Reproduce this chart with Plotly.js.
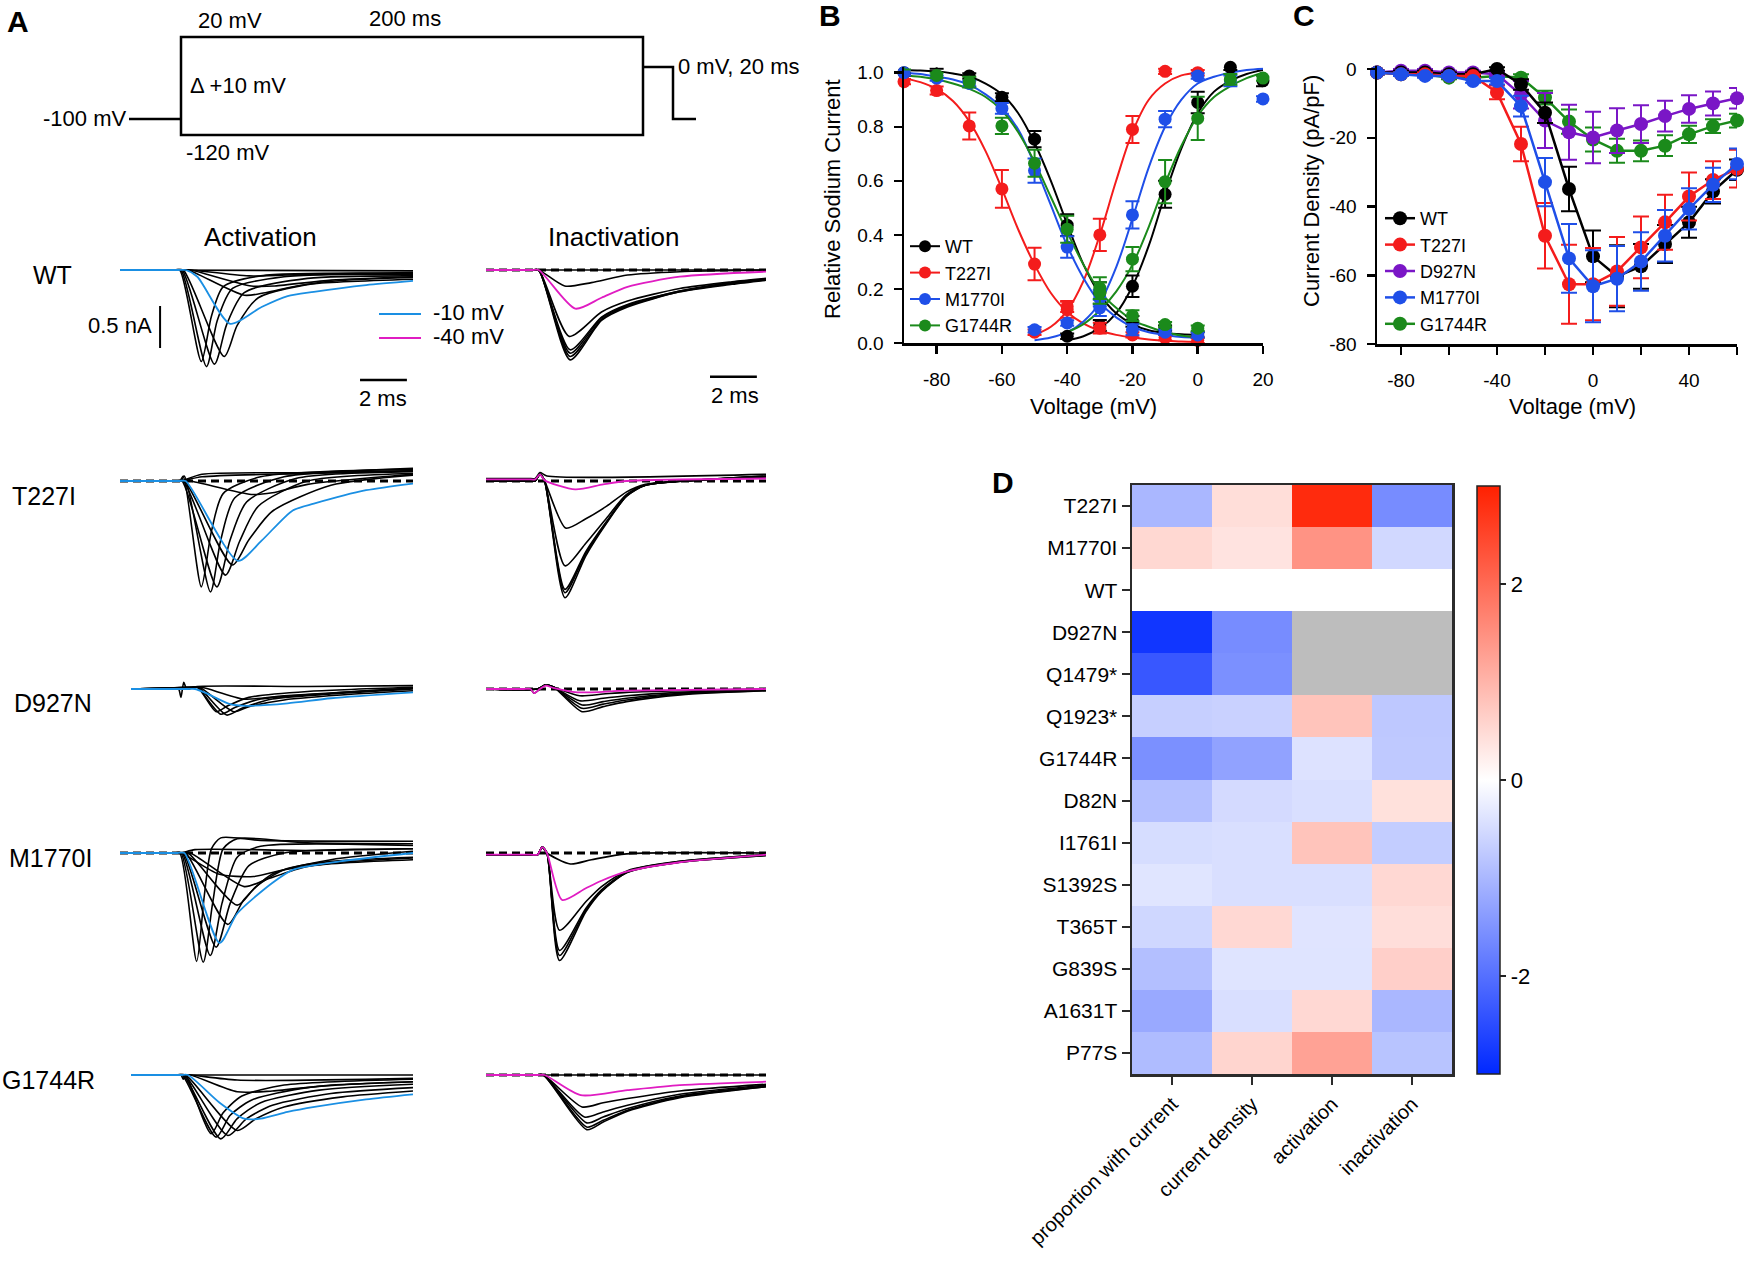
<!DOCTYPE html>
<html>
<head>
<meta charset="utf-8">
<script src="https://cdn.plot.ly/plotly-3.0.1.min.js"></script>
<style>
body { margin: 0; background: #fff; }
#fig { width: 1744px; height: 1263px; }
</style>
</head>
<body>
<div id="fig"></div>
<script>
// ---------------- data: panel A current traces (t in ms, I in nA, pairs t,I) ----------------
var trActWT = [
  [0,0, 2.25,0, 2.55,0, 3.47,-1.09, 3.9,-0.55, 4.4,-0.2, 6,-0.07, 12.5,-0.04],
  [0,0, 2.3,0, 2.6,0, 3.69,-1.15, 4.15,-0.6, 4.8,-0.22, 7,-0.08, 12.5,-0.05],
  [0,0, 2.35,0, 2.65,0, 4.03,-1.12, 4.55,-0.65, 5.3,-0.27, 8,-0.1, 12.5,-0.07],
  [0,0, 2.4,0, 2.7,0, 4.45,-1.03, 5.0,-0.66, 5.9,-0.33, 8.5,-0.15, 12.5,-0.09],
  [0,0, 2.6,0, 2.9,0, 5.3,-0.3, 6.2,-0.27, 8,-0.17, 12.5,-0.11],
  [0,0, 2.7,0, 3.0,0, 5.6,-0.19, 6.6,-0.19, 9,-0.12, 12.5,-0.08],
  [0,0, 2.7,0, 3.0,0, 5.5,-0.07, 8,-0.05, 12.5,-0.03],
  [0,0, 12.5,-0.01]
];
var trActWTblue = [0,0, 2.5,0, 2.8,0, 3.3,-0.08, 4.7,-0.64, 6.04,-0.44, 7.15,-0.31, 8.27,-0.26, 10.5,-0.18, 12.5,-0.13];

var trInWT = [
  [0,0, 1.95,0, 2.25,0, 3.59,-1.07, 4.93,-0.6, 6.04,-0.44, 8.27,-0.26, 10.5,-0.17, 11.95,-0.12],
  [0,0, 1.95,0, 2.25,0, 3.59,-1.03, 4.93,-0.59, 6.04,-0.43, 8.27,-0.26, 10.5,-0.16, 11.95,-0.12],
  [0,0, 1.95,0, 2.25,0, 3.59,-0.99, 4.93,-0.57, 6.04,-0.42, 8.27,-0.25, 10.5,-0.16, 11.95,-0.11],
  [0,0, 1.95,0, 2.25,0, 3.59,-0.95, 4.93,-0.56, 6.04,-0.41, 8.27,-0.25, 10.5,-0.15, 11.95,-0.11],
  [0,0, 1.95,0, 2.25,0, 3.55,-0.79, 4.93,-0.5, 6.04,-0.37, 8.27,-0.22, 10.5,-0.14, 11.95,-0.1],
  [0,0, 1.95,0, 2.25,0, 3.36,-0.19, 4.5,-0.15, 6.04,-0.06, 8.27,-0.02, 11.95,0],
  [0,0, 11.95,0]
];
var trInWTpink = [0,0, 1.95,0, 2.25,0, 3.81,-0.46, 4.93,-0.33, 6.04,-0.2, 8.27,-0.08, 11.95,-0.02];

var trActT227I = [
  [0,0, 2.25,0, 2.55,0, 2.7,0.06, 3.47,-1.26, 3.9,-0.6, 4.4,-0.15, 6,0.05, 12.5,0.14],
  [0,0, 2.3,0, 2.6,0, 2.75,0.06, 3.86,-1.32, 4.3,-0.7, 4.9,-0.2, 7,0.05, 12.5,0.12],
  [0,0, 2.35,0, 2.65,0, 4.13,-1.26, 4.7,-0.7, 5.4,-0.25, 7.5,0.03, 12.5,0.11],
  [0,0, 2.4,0, 2.7,0, 4.5,-1.12, 5.1,-0.72, 5.9,-0.3, 8,0.0, 12.5,0.09],
  [0,0, 2.45,0, 2.75,0, 4.8,-1.0, 5.5,-0.7, 6.5,-0.36, 9,-0.05, 12.5,0.07],
  [0,0, 2.7,0, 3.0,0, 5.6,-0.16, 6.5,-0.14, 8,-0.04, 12.5,0.08],
  [0,0, 2.3,0, 2.6,0, 3.5,0.08, 8,0.1, 12.5,0.15],
  [0,0, 2.3,0, 2.6,0, 3.5,0.05, 8,0.09, 12.5,0.12]
];
var trActT227Iblue = [0,0, 2.5,0, 2.8,0, 5.03,-0.95, 6.04,-0.71, 7.37,-0.35, 8.27,-0.27, 10.5,-0.11, 12.5,-0.03];

var trInT227I = [
  [0,0, 1.8,0, 2.1,0, 2.3,0.08, 2.5,0, 3.37,-1.39, 4.26,-0.89, 5.15,-0.5, 6.0,-0.18, 6.8,-0.05, 9,0.01, 11.95,0.06],
  [0,0, 1.8,0, 2.1,0, 2.3,0.08, 2.5,0, 3.37,-1.33, 4.26,-0.86, 5.15,-0.49, 6.0,-0.18, 6.8,-0.05, 9,0.01, 11.95,0.06],
  [0,0, 1.8,0, 2.1,0, 2.3,0.08, 2.5,0, 3.37,-1.29, 4.26,-0.84, 5.15,-0.48, 6.0,-0.17, 6.8,-0.05, 9,0.01, 11.95,0.05],
  [0,0, 1.8,0, 2.1,0, 2.3,0.08, 2.5,0, 3.37,-1.01, 4.26,-0.74, 5.15,-0.44, 6.0,-0.16, 6.8,-0.05, 9,0.01, 11.95,0.05],
  [0,0, 1.8,0, 2.1,0, 2.3,0.08, 2.5,0, 3.4,-0.56, 4.26,-0.45, 5.15,-0.3, 6.0,-0.13, 6.8,-0.04, 9,0.01, 11.95,0.05],
  [0,0.03, 1.8,0.03, 2.1,0.03, 2.3,0.1, 2.6,0.06, 11.95,0.08]
];
var trInT227Ipink = [0,0.02, 1.8,0.02, 2.1,0.02, 2.3,0.08, 2.5,0.01, 3.81,-0.1, 5,-0.04, 6,0, 11.95,0.03];

var trActD927N = [
  [0.47,0, 2.2,0, 2.5,0, 2.6,-0.1, 2.72,0.08, 2.85,0, 3.3,0.02, 4.1,-0.27, 4.6,-0.2, 5.5,-0.1, 8,-0.03, 12.5,0.02],
  [0.47,0, 3.0,0.02, 3.3,0.02, 4.3,-0.3, 4.9,-0.22, 6,-0.12, 9,-0.05, 12.5,0.01],
  [0.47,0, 3.05,0.02, 3.35,0.02, 4.55,-0.31, 5.2,-0.23, 6.5,-0.12, 9,-0.06, 12.5,0],
  [0.47,0, 3.1,0.02, 3.4,0.02, 4.85,-0.27, 5.5,-0.21, 7,-0.13, 10,-0.06, 12.5,-0.02],
  [0.47,0, 3.2,0.02, 3.5,0.02, 5.3,-0.12, 7,-0.08, 12.5,0.01],
  [0.47,0, 3.0,0.01, 3.3,0.03, 8,0.03, 12.5,0.04]
];
var trActD927Nblue = [0.47,0, 2.9,0, 3.2,0, 3.6,-0.04, 4.7,-0.18, 5.4,-0.2, 7.15,-0.17, 9,-0.11, 12.5,-0.04];

var trInD927N = [
  [0,0, 1.6,0, 1.9,0, 2.05,-0.05, 2.3,0, 2.55,0.05, 2.9,0.02, 4.1,-0.27, 5,-0.21, 6,-0.15, 8.3,-0.07, 11.95,-0.02],
  [0,0, 2.2,0, 2.55,0.05, 2.9,0.02, 4.1,-0.23, 5,-0.18, 6,-0.13, 8.3,-0.06, 11.95,-0.02],
  [0,0, 2.2,0, 2.55,0.05, 2.9,0.02, 4.1,-0.19, 5,-0.15, 6,-0.11, 8.3,-0.05, 11.95,-0.01],
  [0,0, 2.2,0, 2.55,0.05, 2.9,0.02, 4.0,-0.14, 5,-0.11, 6,-0.08, 8.3,-0.04, 11.95,-0.01],
  [0,0, 2.2,0, 2.55,0.05, 2.9,0.02, 4.0,-0.08, 5,-0.06, 6,-0.04, 11.95,0]
];
var trInD927Npink = [0,0, 1.6,0, 1.9,0, 2.05,-0.05, 2.3,0, 2.55,0.04, 2.9,0.01, 3.9,-0.04, 6,-0.02, 11.95,0];

var trActM1770I = [
  [0,0, 2.25,0, 2.55,0, 3.27,-1.29, 3.6,-0.5, 3.9,0.05, 4.3,0.18, 6,0.15, 12.5,0.14],
  [0,0, 2.3,0, 2.6,0, 3.55,-1.3, 3.95,-0.6, 4.4,0.05, 5,0.17, 8,0.12, 12.5,0.11],
  [0,0, 2.35,0, 2.65,0, 3.85,-1.22, 4.35,-0.6, 5,-0.05, 6,0.08, 12.5,0.09],
  [0,0, 2.4,0, 2.7,0, 4.1,-1.12, 4.7,-0.6, 5.5,-0.15, 7,0.0, 12.5,0.05],
  [0,0, 2.5,0, 2.8,0, 4.6,-0.85, 5.3,-0.55, 6.5,-0.25, 9,-0.08, 12.5,0.02],
  [0,0, 2.6,0, 2.9,0, 5.0,-0.62, 5.8,-0.4, 7,-0.2, 9,-0.1, 12.5,-0.05],
  [0,0, 2.7,0, 3.0,0, 5.3,-0.4, 6.2,-0.32, 8,-0.16, 12.5,-0.08],
  [0,0, 2.3,0, 2.6,0, 4.2,-0.25, 5.7,-0.28, 7,-0.2, 9,-0.12, 12.5,-0.06],
  [0,0, 2.3,0, 2.6,0, 3.2,0.04, 8,0.03, 12.5,0.05]
];
var trActM1770Iblue = [0,0, 2.45,0, 2.75,0, 4.25,-1.07, 5.0,-0.72, 6.48,-0.36, 7.37,-0.2, 9.38,-0.1, 12.5,0.0];

var trInM1770I = [
  [0,-0.02, 1.9,-0.02, 2.2,-0.02, 2.4,0.07, 2.6,0, 3.14,-1.28, 4.26,-0.7, 4.93,-0.46, 6.04,-0.23, 8.27,-0.11, 11.95,-0.03],
  [0,-0.02, 1.9,-0.02, 2.2,-0.02, 2.4,0.07, 2.6,0, 3.14,-1.22, 4.26,-0.68, 4.93,-0.45, 6.04,-0.23, 8.27,-0.11, 11.95,-0.03],
  [0,-0.02, 1.9,-0.02, 2.2,-0.02, 2.4,0.07, 2.6,0, 3.14,-1.16, 4.26,-0.66, 4.93,-0.44, 6.04,-0.22, 8.27,-0.1, 11.95,-0.02],
  [0,-0.02, 1.9,-0.02, 2.2,-0.02, 2.4,0.07, 2.6,0, 3.14,-0.92, 4.26,-0.58, 4.93,-0.4, 6.04,-0.21, 8.27,-0.1, 11.95,-0.02],
  [0,-0.02, 1.9,-0.02, 2.2,-0.02, 2.4,0.07, 2.6,0, 3.6,-0.13, 4.5,-0.08, 6,-0.01, 11.95,0]
];
var trInM1770Ipink = [0,-0.02, 1.9,-0.02, 2.2,-0.02, 2.4,0.07, 2.6,0, 3.25,-0.56, 4.26,-0.42, 4.93,-0.33, 6.04,-0.22, 8.27,-0.11, 11.95,-0.02];

var trActG1744R = [
  [0.47,0, 2.3,0, 2.6,0, 2.7,-0.05, 2.8,0, 3.89,-0.7, 4.4,-0.45, 5.2,-0.25, 7,-0.12, 12.5,-0.05],
  [0.47,0, 2.35,0, 2.65,0, 4.1,-0.74, 4.7,-0.48, 5.6,-0.3, 8,-0.15, 12.5,-0.08],
  [0.47,0, 2.4,0, 2.7,0, 4.3,-0.76, 5.0,-0.52, 6,-0.33, 8.5,-0.18, 12.5,-0.11],
  [0.47,0, 2.45,0, 2.75,0, 4.6,-0.72, 5.4,-0.52, 6.5,-0.36, 9,-0.22, 12.5,-0.15],
  [0.47,0, 2.5,0, 2.8,0, 5.0,-0.66, 5.8,-0.52, 7,-0.38, 9.5,-0.26, 12.5,-0.19],
  [0.47,0, 2.7,0, 3.0,0, 5.0,-0.2, 6.5,-0.19, 9,-0.12, 12.5,-0.08],
  [0.47,0, 2.7,0, 3.0,0, 5,-0.06, 12.5,-0.04],
  [0.47,0, 12.5,0]
];
var trActG1744Rblue = [0.47,0, 2.6,0, 2.9,0, 4.25,-0.33, 5.3,-0.52, 6.0,-0.52, 7.15,-0.44, 8.3,-0.38, 10.5,-0.29, 12.5,-0.23];

var trInG1744R = [
  [0,0, 2.15,0, 2.45,0, 4.3,-0.65, 5,-0.56, 6.04,-0.43, 8.27,-0.27, 11.95,-0.14],
  [0,0, 2.15,0, 2.45,0, 4.3,-0.62, 5,-0.54, 6.04,-0.42, 8.27,-0.26, 11.95,-0.14],
  [0,0, 2.15,0, 2.45,0, 4.3,-0.57, 5,-0.5, 6.04,-0.4, 8.27,-0.25, 11.95,-0.13],
  [0,0, 2.15,0, 2.45,0, 4.2,-0.5, 5,-0.44, 6.04,-0.36, 8.27,-0.23, 11.95,-0.12],
  [0,0, 2.15,0, 2.45,0, 4.1,-0.38, 5,-0.33, 6.04,-0.28, 8.27,-0.19, 11.95,-0.11],
  [0,0, 11.95,0]
];
var trInG1744Rpink = [0,0, 2.2,0, 2.5,0, 4.04,-0.24, 6.04,-0.18, 8.27,-0.12, 11.95,-0.08];

var rowNames = ['WT', 'T227I', 'D927N', 'M1770I', 'G1744R'];
var actSets = [trActWT, trActT227I, trActD927N, trActM1770I, trActG1744R];
var actBlue = [trActWTblue, trActT227Iblue, trActD927Nblue, trActM1770Iblue, trActG1744Rblue];
var inSets = [trInWT, trInT227I, trInD927N, trInM1770I, trInG1744R];
var inPink = [trInWTpink, trInT227Ipink, trInD927Npink, trInM1770Ipink, trInG1744Rpink];
var scaleNA = 0.5, scaleMS = 2;

// ---------------- data: panel B (relative current vs voltage) ----------------
var bNames = ['WT', 'T227I', 'M1770I', 'G1744R'];
var ssiV = [-90, -80, -70, -60, -50, -40, -30, -20, -10, 0];
var ssiWT     = [1.0, 1.025, 0.988, 0.909, 0.754, 0.436, 0.185, 0.08, 0.055, 0.03];
var ssiT227I  = [0.967, 0.934, 0.803, 0.57, 0.292, 0.123, 0.055, 0.03, 0.02, 0.01];
var ssiM1770I = [1.0, 0.98, 0.96, 0.868, 0.638, 0.355, 0.13, 0.049, 0.04, 0.03];
var ssiG1744R = [1.022, 0.99, 0.965, 0.803, 0.665, 0.421, 0.203, 0.101, 0.068, 0.055];
var ssiErrWT     = [0.01, 0.01, 0.01, 0.015, 0.03, 0.04, 0.04, 0.02, 0.01, 0.01];
var ssiErrT227I  = [0.01, 0.015, 0.05, 0.07, 0.06, 0.03, 0.02, 0.01, 0.01, 0.01];
var ssiErrM1770I = [0.01, 0.01, 0.01, 0.02, 0.045, 0.04, 0.03, 0.02, 0.01, 0.01];
var ssiErrG1744R = [0.01, 0.01, 0.02, 0.03, 0.05, 0.05, 0.04, 0.02, 0.01, 0.01];

var gvV = [-50, -40, -30, -20, -10, 0, 10, 20];
var gvWT     = [null, 0.025, 0.065, 0.21, 0.55, 0.89, 1.02, 0.97];
var gvT227I  = [0.04, 0.135, 0.40, 0.79, 1.005, 1.0, null, null];
var gvM1770I = [0.049, 0.074, 0.166, 0.474, 0.828, 0.988, 0.97, 0.903];
var gvG1744R = [null, null, 0.185, 0.31, 0.597, 0.831, 0.975, 0.98];
var gvErrWT     = [0, 0.01, 0.02, 0.04, 0.05, 0.04, 0.01, 0.02];
var gvErrT227I  = [0.01, 0.02, 0.06, 0.05, 0.01, 0.01, 0, 0];
var gvErrM1770I = [0.01, 0.01, 0.03, 0.05, 0.03, 0.01, 0.02, 0.01];
var gvErrG1744R = [0, 0, 0.04, 0.045, 0.08, 0.08, 0.02, 0.01];

// fitted curves
var ssiFitV = [-90, -85, -80, -75, -70, -65, -60, -55, -50, -45, -40, -35, -30, -25, -20, -15, -10, -5, 0];
var ssiFitWT     = [1.01, 1.008, 1.005, 0.997, 0.985, 0.96, 0.92, 0.85, 0.74, 0.6, 0.44, 0.29, 0.18, 0.11, 0.07, 0.047, 0.037, 0.032, 0.03];
var ssiFitT227I  = [0.98, 0.965, 0.94, 0.895, 0.82, 0.71, 0.57, 0.42, 0.29, 0.185, 0.115, 0.072, 0.046, 0.03, 0.02, 0.013, 0.009, 0.006, 0.005];
var ssiFitM1770I = [1.0, 0.995, 0.985, 0.975, 0.955, 0.92, 0.87, 0.79, 0.66, 0.51, 0.36, 0.24, 0.15, 0.095, 0.06, 0.04, 0.03, 0.022, 0.02];
var ssiFitG1744R = [0.99, 0.985, 0.975, 0.96, 0.94, 0.91, 0.86, 0.78, 0.67, 0.54, 0.41, 0.29, 0.19, 0.13, 0.085, 0.06, 0.04, 0.028, 0.02];
var gvFitV = [-50, -45, -40, -35, -30, -25, -20, -15, -10, -5, 0, 5, 10, 15, 20];
var gvFitWT     = [null, null, 0.01, 0.025, 0.055, 0.11, 0.21, 0.36, 0.55, 0.72, 0.85, 0.93, 0.97, 0.995, 1.01];
var gvFitT227I  = [0.03, 0.06, 0.12, 0.23, 0.4, 0.6, 0.78, 0.9, 0.96, 0.99, 1.0, null, null, null, null];
var gvFitM1770I = [0.01, 0.02, 0.04, 0.08, 0.15, 0.28, 0.46, 0.65, 0.8, 0.9, 0.96, 0.985, 1.0, 1.01, 1.015];
var gvFitG1744R = [null, null, 0.04, 0.07, 0.12, 0.19, 0.29, 0.43, 0.59, 0.73, 0.84, 0.91, 0.95, 0.98, 1.0];

// ---------------- data: panel C (current density) ----------------
var ivV = [-90, -80, -70, -60, -50, -40, -30, -20, -10, 0, 10, 20, 30, 40, 50, 60];
var ivWT     = [-1, -1, -1, -1.5, -1.5, 0, -4.5, -12.7, -34.9, -54.5, -60.3, -57.4, -50.9, -44.6, -35.6, -29.3];
var ivT227I  = [-1, -1.5, -1.5, -2, -2, -6.8, -21.8, -48.5, -62.6, -62.6, -58.9, -51.9, -44.6, -37.1, -32.3, -29];
var ivD927N  = [-1, -0.5, -0.5, -1, -1, -1.5, -7.5, -15, -18.4, -19.9, -17.9, -16, -13.7, -11.6, -10, -8.5];
var ivM1770I = [-1, -1.5, -2, -2, -3.5, -3.5, -10.8, -32.9, -55.1, -63.2, -61, -56, -48.5, -40.7, -33.7, -27.6];
var ivG1744R = [-1, -1.5, -1.5, -2.5, -2.5, -2, -2.5, -8.3, -15.3, -20.5, -23.8, -23.8, -22.3, -19, -16.6, -15];
var ivErrWT     = [0.5, 0.5, 0.5, 0.5, 0.5, 0.5, 1.5, 3, 6.5, 7.5, 9, 6.5, 5.5, 4.5, 3.5, 3];
var ivErrT227I  = [0.5, 0.5, 0.5, 0.5, 0.5, 2, 5, 9.5, 11.5, 10.5, 10, 9, 8, 7, 5.5, 5.5];
var ivErrD927N  = [0.5, 0.5, 0.5, 0.5, 0.5, 0.5, 4, 8, 8, 7.5, 6.5, 5.5, 4.5, 4, 3.5, 3];
var ivErrM1770I = [0.5, 0.5, 0.5, 0.5, 0.5, 1, 3, 7, 10, 10.5, 9.5, 8.5, 7.5, 6, 5, 4.5];
var ivErrG1744R = [0.5, 0.5, 0.5, 0.5, 0.5, 0.5, 1, 2, 3.5, 3.5, 3.5, 3, 3, 2.5, 2, 2];

// ---------------- data: panel D (z-scores, null = not measured) ----------------
var dRows = ['T227I', 'M1770I', 'WT', 'D927N', 'Q1479*', 'Q1923*', 'G1744R', 'D82N', 'I1761I', 'S1392S', 'T365T', 'G839S', 'A1631T', 'P77S'];
var dCols = ['proportion with current', 'current density', 'activation', 'inactivation'];
var dZ = [
  [-1.0, 0.45, 2.85, -1.6],
  [0.53, 0.37, 1.45, -0.54],
  [0, 0, 0, 0],
  [-2.8, -1.6, null, null],
  [-2.34, -1.55, null, null],
  [-0.67, -0.64, 0.8, -0.77],
  [-1.55, -1.3, -0.4, -0.75],
  [-0.9, -0.51, -0.45, 0.41],
  [-0.48, -0.45, 0.8, -0.7],
  [-0.36, -0.45, -0.45, 0.52],
  [-0.56, 0.52, -0.37, 0.44],
  [-0.9, -0.38, -0.38, 0.64],
  [-1.2, -0.45, 0.52, -1.0],
  [-0.94, 0.57, 1.25, -0.83]
];

// ---------------- geometry & styling ----------------
var W = 1744, H = 1263;
function px(x) { return x / W; }
function py(y) { return 1 - y / H; }

var COL = { WT: '#000000', T227I: '#f41c1c', D927N: '#7a16c6', M1770I: '#1f4fe8', G1744R: '#1b8a1b' };
var BLUE_TR = '#1a8fe3', PINK_TR = '#e01cc2';
var FONT = 'Liberation Sans, Arial, Helvetica, sans-serif';

var traces = [];
var shapes = [];
var annotations = [];
var layout = {
  width: W, height: H,
  margin: { l: 0, r: 0, t: 0, b: 0 },
  paper_bgcolor: '#ffffff',
  plot_bgcolor: 'rgba(0,0,0,0)',
  font: { family: FONT, color: '#000', size: 19 },
  hovermode: false,
  showlegend: true
};

function ann(text, x, y, size, extra) {
  var a = { text: text, x: px(x), y: py(y), xref: 'paper', yref: 'paper', showarrow: false,
            font: { size: size, family: FONT, color: '#000' }, xanchor: 'center', yanchor: 'middle' };
  for (var k in extra) a[k] = extra[k];
  annotations.push(a);
}
function pline(x0, y0, x1, y1, w, col) {
  shapes.push({ type: 'line', xref: 'paper', yref: 'paper', x0: px(x0), y0: py(y0), x1: px(x1), y1: py(y1),
                line: { color: col || '#000', width: w || 2.5 } });
}
function pairs(arr) {
  var x = [], y = [];
  for (var i = 0; i < arr.length; i += 2) { x.push(arr[i]); y.push(arr[i + 1]); }
  return { x: x, y: y };
}

// ---------------- panel A: protocol schematic ----------------
pline(129, 119, 181, 119);
shapes.push({ type: 'rect', xref: 'paper', yref: 'paper', x0: px(181), y0: py(37), x1: px(643), y1: py(135),
              line: { color: '#000', width: 2.5 } });
shapes.push({ type: 'path', xref: 'paper', yref: 'paper',
              path: 'M' + px(643) + ',' + py(67) + ' L' + px(673) + ',' + py(67) + ' L' + px(673) + ',' + py(119) + ' L' + px(696) + ',' + py(119),
              line: { color: '#000', width: 2.5 } });
ann('20 mV', 230, 20, 22);
ann('200 ms', 405, 19, 22);
ann('Δ +10 mV', 188, 86, 22, { xanchor: 'left' });
ann('-100 mV', 128, 119, 22, { xanchor: 'right' });
ann('-120 mV', 227, 153, 22);
ann('0 mV, 20 ms', 676, 67, 22, { xanchor: 'left' });

// ---------------- panel A: current traces ----------------
var rowBase = [270, 481, 689, 853, 1075];   // pixel row of zero current
var pxPerNA = 84, nALo = -1.6, nAHi = 0.4;
var axId = 4;
var rowAx = [];

function addPanel(set, coloured, colour, left, right, tmax, r, dashed) {
  var id = axId++;
  var b = rowBase[r];
  layout['xaxis' + id] = { domain: [px(left), px(right)], range: [0, tmax], visible: false, fixedrange: true, anchor: 'y' + id };
  layout['yaxis' + id] = { domain: [py(b - nALo * pxPerNA), py(b - nAHi * pxPerNA)], range: [nALo, nAHi],
                           visible: false, fixedrange: true, anchor: 'x' + id };
  if (dashed) {
    shapes.push({ type: 'line', xref: 'x' + id + ' domain', yref: 'y' + id, x0: 0, x1: 1, y0: 0, y1: 0, layer: 'below',
                  line: { color: '#000', width: 3, dash: '8px,5px' } });
  }
  var all = set.concat([coloured]);
  all.forEach(function (tr, i) {
    var p = pairs(tr);
    var isCol = (i === all.length - 1);
    traces.push({ type: 'scatter', mode: 'lines', x: p.x, y: p.y, xaxis: 'x' + id, yaxis: 'y' + id,
                  line: { color: isCol ? colour : '#000', width: isCol ? 1.8 : 1.6, shape: 'spline', smoothing: 0.7 },
                  showlegend: false, hoverinfo: 'skip' });
  });
  return id;
}

for (var r = 0; r < 5; r++) {
  var a = addPanel(actSets[r], actBlue[r], BLUE_TR, 120, 413, 12.5, r, r === 1 || r === 3);
  var c = addPanel(inSets[r], inPink[r], PINK_TR, 486, 766, 11.95, r, true);
  rowAx.push([a, c]);
}
ann('Activation', 260, 237, 26);
ann('Inactivation', 614, 237, 26);
var rowLabelPos = [[52, 275], [44, 496], [53, 703], [50, 858], [48, 1080]];
rowNames.forEach(function (n, i) { ann(n, rowLabelPos[i][0], rowLabelPos[i][1], 25); });

// scale bars in the WT panels' data units
var ax0 = rowAx[0][0], ax1 = rowAx[0][1];
shapes.push({ type: 'line', xref: 'x' + ax0, yref: 'y' + ax0, x0: 1.71, x1: 1.71, y0: -0.43, y1: -0.43 - scaleNA, line: { color: '#000', width: 2 } });
shapes.push({ type: 'line', xref: 'x' + ax0, yref: 'y' + ax0, x0: 10.24, x1: 10.24 + scaleMS, y0: -1.31, y1: -1.31, line: { color: '#000', width: 2.5 } });
shapes.push({ type: 'line', xref: 'x' + ax1, yref: 'y' + ax1, x0: 9.56, x1: 9.56 + scaleMS, y0: -1.27, y1: -1.27, line: { color: '#000', width: 2.5 } });
ann(scaleNA + ' nA', 154, 325, 22, { xanchor: 'right' });
ann(scaleMS + ' ms', 383, 398, 22);
ann(scaleMS + ' ms', 735, 396, 22);
// trace colour key
pline(379, 314, 421, 314, 2, BLUE_TR);
pline(379, 338, 421, 338, 2, PINK_TR);
ann('-10 mV', 431, 313, 22, { xanchor: 'left' });
ann('-40 mV', 431, 337, 22, { xanchor: 'left' });

// ---------------- panel B ----------------
var ssiY = [ssiWT, ssiT227I, ssiM1770I, ssiG1744R];
var ssiE = [ssiErrWT, ssiErrT227I, ssiErrM1770I, ssiErrG1744R];
var gvY = [gvWT, gvT227I, gvM1770I, gvG1744R];
var gvE = [gvErrWT, gvErrT227I, gvErrM1770I, gvErrG1744R];
var ssiFit = [ssiFitWT, ssiFitT227I, ssiFitM1770I, ssiFitG1744R];
var gvFit = [gvFitWT, gvFitT227I, gvFitM1770I, gvFitG1744R];

bNames.forEach(function (n, i) {
  var col = COL[n];
  traces.push({ type: 'scatter', mode: 'lines', x: ssiFitV, y: ssiFit[i], xaxis: 'x', yaxis: 'y', cliponaxis: false,
                line: { color: col, width: 2, shape: 'spline' }, showlegend: false, hoverinfo: 'skip' });
  traces.push({ type: 'scatter', mode: 'lines', x: gvFitV, y: gvFit[i], xaxis: 'x', yaxis: 'y', cliponaxis: false,
                line: { color: col, width: 2, shape: 'spline' }, showlegend: false, hoverinfo: 'skip' });
});
bNames.forEach(function (n, i) {
  var col = COL[n];
  [[ssiV, ssiY[i], ssiE[i]], [gvV, gvY[i], gvE[i]]].forEach(function (s) {
    traces.push({ type: 'scatter', mode: 'markers', x: s[0], y: s[1], xaxis: 'x', yaxis: 'y', cliponaxis: false,
                  marker: { color: col, size: 13 },
                  error_y: { type: 'data', array: s[2], color: col, thickness: 2, width: 7 },
                  showlegend: false, hoverinfo: 'skip' });
  });
  // legend entry (line + marker)
  traces.push({ type: 'scatter', mode: 'lines+markers', x: [null], y: [null], xaxis: 'x', yaxis: 'y', name: n,
                legend: 'legend', line: { color: col, width: 2 }, marker: { color: col, size: 12 }, showlegend: true });
});

var axisCommon = { showline: true, linecolor: '#000', linewidth: 2.5, ticks: 'outside', ticklen: 8, tickwidth: 2.5,
                   tickcolor: '#000', showgrid: false, zeroline: false, fixedrange: true, tickfont: { size: 19 } };
function axis(extra) { var o = JSON.parse(JSON.stringify(axisCommon)); for (var k in extra) o[k] = extra[k]; return o; }

layout.xaxis = axis({ domain: [px(904), px(1263)], range: [-90, 20], anchor: 'y',
                      tickvals: [-80, -60, -40, -20, 0, 20], ticktext: ['-80', '-60', '-40', '-20', '0', '20'], ticklabelstandoff: 10 });
layout.yaxis = axis({ domain: [py(343), py(67.3)], range: [0, 1.02], anchor: 'x',
                      tickvals: [0, 0.2, 0.4, 0.6, 0.8, 1.0], ticktext: ['0.0', '0.2', '0.4', '0.6', '0.8', '1.0'], ticklabelstandoff: 6 });
layout.legend = { x: px(905), y: py(228), xanchor: 'left', yanchor: 'top', bgcolor: 'rgba(0,0,0,0)',
                  font: { size: 18, family: FONT }, tracegroupgap: 0, itemwidth: 30 };
ann('Voltage (mV)', 1093, 406, 22);
ann('Relative Sodium Current', 832, 199, 22, { textangle: -90 });

// ---------------- panel C ----------------
var ivNames = ['WT', 'T227I', 'D927N', 'M1770I', 'G1744R'];
var ivY = { WT: ivWT, T227I: ivT227I, D927N: ivD927N, M1770I: ivM1770I, G1744R: ivG1744R };
var ivE = { WT: ivErrWT, T227I: ivErrT227I, D927N: ivErrD927N, M1770I: ivErrM1770I, G1744R: ivErrG1744R };
var drawOrder = ['G1744R', 'D927N', 'WT', 'T227I', 'M1770I'];
drawOrder.forEach(function (n) {
  var col = COL[n];
  traces.push({ type: 'scatter', mode: 'lines+markers', x: ivV, y: ivY[n], xaxis: 'x2', yaxis: 'y2', cliponaxis: false,
                name: n, legend: 'legend2', legendrank: ivNames.indexOf(n) + 1,
                line: { color: col, width: 2.5 }, marker: { color: col, size: 14 },
                error_y: { type: 'data', array: ivE[n], color: col, thickness: 2, width: 8 }, hoverinfo: 'skip' });
});
layout.xaxis2 = axis({ domain: [px(1377), px(1737)], range: [-90, 60], anchor: 'y2',
                       tickvals: [-80, -60, -40, -20, 0, 20, 40, 60], ticktext: ['-80', '', '-40', '', '0', '', '40', ''], ticklabelstandoff: 10 });
layout.yaxis2 = axis({ domain: [py(344), py(65.6)], range: [-80, 1], anchor: 'x2',
                       tickvals: [-80, -60, -40, -20, 0], ticktext: ['-80', '-60', '-40', '-20', '0'], ticklabelstandoff: 6 });
layout.legend2 = { x: px(1380), y: py(200), xanchor: 'left', yanchor: 'top', bgcolor: 'rgba(0,0,0,0)',
                   font: { size: 18, family: FONT }, tracegroupgap: 0, itemwidth: 30, traceorder: 'normal' };
ann('Voltage (mV)', 1572, 406, 22);
ann('Current Density (pA/pF)', 1311, 191, 22, { textangle: -90 });

// ---------------- panel D ----------------
var gz = dZ.map(function (row) { return row.map(function (v) { return v === null ? 1 : null; }); });
traces.push({ type: 'heatmap', z: dZ, x: dCols, y: dRows, xaxis: 'x3', yaxis: 'y3', zmin: -3, zmax: 3,
              colorscale: [[0, 'rgb(0,40,255)'], [0.5, 'rgb(255,255,255)'], [1, 'rgb(255,32,0)']],
              hoverinfo: 'skip',
              colorbar: { x: px(1477), xanchor: 'left', y: py(780), yanchor: 'middle', len: 588, lenmode: 'pixels',
                          thickness: 23, thicknessmode: 'pixels', outlinewidth: 1.5, outlinecolor: '#222',
                          xpad: 0, ypad: 0, tickvals: [-2, 0, 2], ticktext: ['-2', '0', '2'], ticks: 'outside',
                          ticklen: 6, tickwidth: 1.5, tickcolor: '#222', tickfont: { size: 22 } } });
traces.push({ type: 'heatmap', z: gz, x: dCols, y: dRows, xaxis: 'x3', yaxis: 'y3', zmin: 0, zmax: 1,
              colorscale: [[0, '#bdbdbd'], [1, '#bdbdbd']], showscale: false, hoverinfo: 'skip' });
layout.xaxis3 = axis({ domain: [px(1132), px(1452)], anchor: 'y3', type: 'category', mirror: true,
                       linecolor: '#2b2b2b', tickcolor: '#2b2b2b', ticklen: 8, tickwidth: 2, tickangle: -45, tickfont: { size: 20 } });
layout.yaxis3 = axis({ domain: [py(1074), py(485)], anchor: 'x3', type: 'category', mirror: true, autorange: 'reversed',
                       linecolor: '#2b2b2b', tickcolor: '#2b2b2b', ticklen: 8, tickwidth: 2, tickfont: { size: 21 } });

// ---------------- panel letters ----------------
[['A', 18, 21], ['B', 830, 16], ['C', 1304, 16], ['D', 1003, 482]].forEach(function (p) {
  ann('<b>' + p[0] + '</b>', p[1], p[2], 30);
});

layout.shapes = shapes;
layout.annotations = annotations;
Plotly.newPlot('fig', traces, layout, { staticPlot: true, displayModeBar: false });
</script>
</body>
</html>
